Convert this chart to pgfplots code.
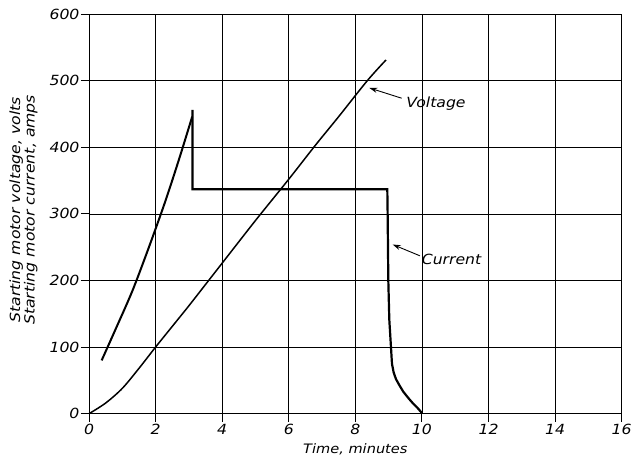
\documentclass[border=0pt]{standalone}
\usepackage{fontspec}
\setmainfont{DejaVu Sans}[FakeStretch=1.12]
\usepackage{pgfplots}
\pgfplotsset{compat=1.18}
\usetikzlibrary{arrows.meta}
\begin{document}
\begin{tikzpicture}
\useasboundingbox (-89pt,-44.3pt) rectangle (542pt,413.7pt);
\begin{axis}[
  scale only axis,
  width=532.7pt, height=399.7pt,
  xmin=0, xmax=16, ymin=0, ymax=600,
  xtick={0,2,...,16}, ytick={0,100,...,600},
  xmajorgrids, ymajorgrids,
  major grid style={black, line width=0.7pt},
  axis line style={black, line width=0.9pt},
  tick align=outside,
  major tick length=8pt,
  every tick/.style={black, line width=0.9pt},
  xtick pos=bottom, ytick pos=left,
  /pgf/number format/assume math mode=true,
  tick label style={font=\fontsize{14}{16}\selectfont\itshape},
  xticklabel style={yshift=1pt},
  yticklabel style={xshift=2pt},
  xlabel={Time, minutes},
  xlabel style={font=\fontsize{13}{15}\selectfont\itshape, at={(axis description cs:0.5,0)}, anchor=north, yshift=-26pt},
  ylabel={Starting motor voltage, volts\\Starting motor current, amps},
  ylabel style={font=\fontsize{14}{13.5}\selectfont\itshape, align=center, at={(axis description cs:0,0.51)}, anchor=south, yshift=48pt},
  clip=false,
]
% Voltage
\addplot[black, line width=1.5pt, smooth] coordinates {
(0,0) (0.5,16) (1,38) (1.5,68) (2,100) (2.5,131) (3,162) (3.5,194) (4,226)
(5,290) (6,352) (6.8,403) (7.5,446) (8.36,500) (8.92,531)
};
% Current, rising part
\addplot[black, line width=2.0pt, smooth] coordinates {
(0.38,80) (0.8,127) (1.3,184) (1.8,250) (2.3,320) (2.73,386) (3.10,446)
};
% Current, remainder
\addplot[black, line width=2.2pt, line join=miter] coordinates {
(3.11,456) (3.11,337) (8.96,337) (8.97,300) (8.99,200) (9.02,141) (9.07,100) (9.10,75)
(9.15,62) (9.22,52) (9.32,43) (9.44,33) (9.6,23) (9.74,15) (9.88,8) (10.0,1)
};
\draw[-{Stealth[length=8pt,width=5pt]}, line width=0.9pt] (axis cs:9.39,473.6) -- (axis cs:8.42,489);
\node[anchor=west, font=\fontsize{14}{16}\selectfont\itshape, inner sep=1pt] at (axis cs:9.5,465) {Voltage};
\draw[-{Stealth[length=8pt,width=5pt]}, line width=0.9pt] (axis cs:9.94,237) -- (axis cs:9.12,254);
\node[anchor=west, font=\fontsize{14}{16}\selectfont\itshape, inner sep=1pt] at (axis cs:9.96,231) {Current};
\end{axis}
\end{tikzpicture}
\end{document}
